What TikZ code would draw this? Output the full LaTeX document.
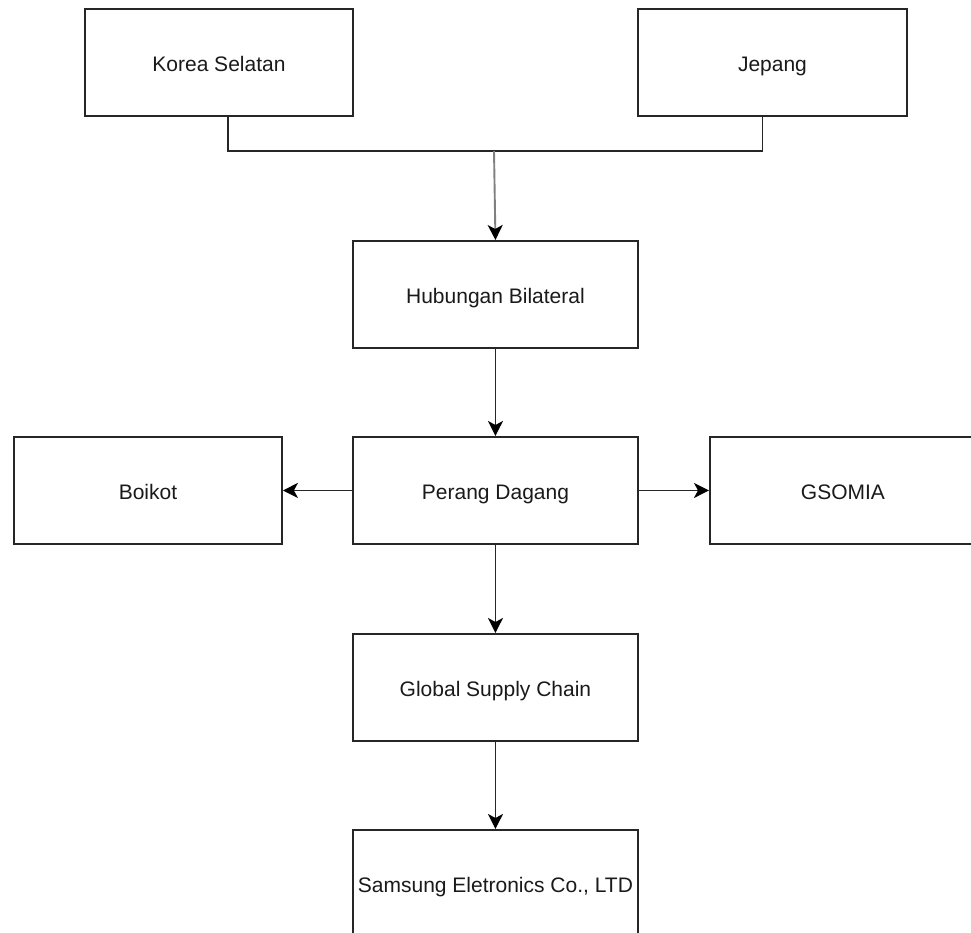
\documentclass[tikz,border=0pt]{standalone}
\usepackage{fontspec}
\setmainfont{Liberation Sans}
\usetikzlibrary{arrows.meta}
\definecolor{txt}{HTML}{1A1A1A}
\definecolor{grayline}{HTML}{808080}
\tikzset{
  box/.style={draw=black!85, line width=1.9pt, fill=white, inner sep=0pt, anchor=north west,
    font=\fontsize{21}{25}\selectfont, text=txt, text height=20pt, text depth=2pt},
  conn/.style={line width=1.9pt, draw=black!85},
  tip/.style={-{Stealth[length=15pt, width=15pt, inset=4pt, black]}},
  arr/.style={conn, tip},
}
\begin{document}
\begin{tikzpicture}[x=1pt, y=-1pt]
\useasboundingbox (0,0) rectangle (971,933);
\clip (0,0) rectangle (971,933);
\fill[white] (0,0) rectangle (971,933);
\node[box, minimum width=268pt, minimum height=107pt] (korea) at (84,8) {Korea Selatan};
\node[box, minimum width=269pt, minimum height=107pt] (jepang) at (637,8) {Jepang};
\node[box, minimum width=285pt, minimum height=107pt] (hub) at (352,240) {Hubungan Bilateral};
\node[box, minimum width=285pt, minimum height=107pt] (perang) at (352,436) {Perang Dagang};
\node[box, minimum width=268pt, minimum height=107pt] (boikot) at (13,436) {Boikot};
\node[box, minimum width=266pt, minimum height=107pt] (gsomia) at (709,436) {GSOMIA};
\node[box, minimum width=285pt, minimum height=107pt] (gsc) at (352,633) {Global Supply Chain};
\node[box, minimum width=285pt, minimum height=107pt] (sam) at (352,829) {Samsung Eletronics Co., LTD};
\coordinate (join) at (494,151);
\draw[conn] ([xshift=9pt]korea.south) |- (join) -| ([xshift=-10pt]jepang.south);
\draw[conn, draw=grayline, tip] (join) -- (hub.north);
\draw[arr] (hub) -- (perang);
\draw[arr] (perang.west) -- (boikot.east);
\draw[arr] (perang.east) -- (gsomia.west);
\draw[arr] (perang) -- (gsc);
\draw[arr] (gsc) -- (sam);
\end{tikzpicture}
\end{document}
